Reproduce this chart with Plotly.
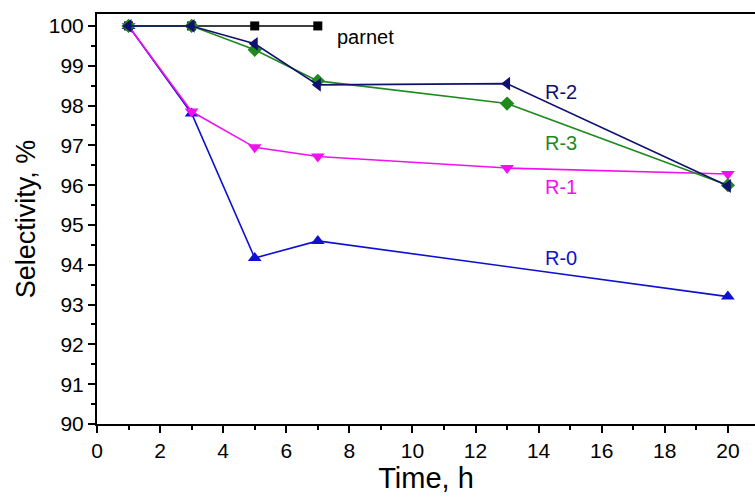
import plotly.graph_objects as go

# Reaction time, h
time_parnet = [1, 3, 5, 7]
time_series = [1, 3, 5, 7, 13, 20]
time_r0 = [1, 3, 5, 7, 20]

# Selectivity, %
sel_parnet = [100.0, 100.0, 100.0, 100.0]
sel_r0 = [100.0, 97.8, 94.17, 94.6, 93.2]
sel_r1 = [100.0, 97.85, 96.95, 96.72, 96.43, 96.28]
sel_r2 = [100.0, 100.0, 99.55, 98.52, 98.55, 95.98]
sel_r3 = [100.0, 100.0, 99.4, 98.62, 98.05, 96.0]

labels = ["parnet", "R-0", "R-1", "R-2", "R-3"]
label_x = [7.55, 14.7, 14.7, 14.7, 14.7]
label_y = [99.72, 94.17, 95.95, 98.34, 97.06]

FONT = "Arial, Liberation Sans, sans-serif"
colors = {
    "parnet": "#000000",
    "R-0": "#1010D0",
    "R-1": "#F010F0",
    "R-2": "#101070",
    "R-3": "#1E8A1E",
}

fig = go.Figure()

series = [
    ("parnet", time_parnet, sel_parnet, "square", 9),
    ("R-0", time_r0, sel_r0, "triangle-up", 12),
    ("R-1", time_series, sel_r1, "triangle-down", 12),
    ("R-3", time_series, sel_r3, "diamond", 11),
    ("R-2", time_series, sel_r2, "triangle-left", 12),
]
for name, xs, ys, sym, size in series:
    fig.add_trace(go.Scatter(
        x=xs, y=ys, mode="lines+markers", name=name,
        line=dict(color=colors[name], width=1.6),
        marker=dict(symbol=sym, size=size, color=colors[name]),
        showlegend=False,
    ))

for name, lx, ly in zip(labels, label_x, label_y):
    fig.add_annotation(
        x=lx, y=ly, xref="x", yref="y", text=name, showarrow=False,
        xanchor="left" if name == "parnet" else "center", yanchor="middle",
        font=dict(family=FONT, size=20, color=colors[name]),
    )

fig.update_xaxes(
    range=[0, 20.86], dtick=2, tick0=0,
    showline=True, linecolor="black", linewidth=2, mirror=True,
    ticks="outside", ticklen=7, tickwidth=2, tickcolor="black",
    minor=dict(ticks="outside", dtick=1, ticklen=4, tickwidth=1.5, tickcolor="black"),
    showgrid=False, zeroline=False,
    tickfont=dict(family=FONT, size=21, color="black"),
    title=dict(text="Time, h", font=dict(family=FONT, size=29, color="black"), standoff=3),
)
fig.update_yaxes(
    range=[90, 100.3], dtick=1, tick0=90,
    showline=True, linecolor="black", linewidth=2,
    ticks="outside", ticklen=7, tickwidth=2, tickcolor="black",
    minor=dict(ticks="outside", dtick=0.5, ticklen=4, tickwidth=1.5, tickcolor="black"),
    showgrid=False, zeroline=False,
    tickfont=dict(family=FONT, size=21, color="black"),
    title=dict(text="Selectivity, %", font=dict(family=FONT, size=27, color="black"), standoff=5),
)

fig.update_layout(
    width=755, height=498,
    margin=dict(l=97, r=0, t=14, b=74),
    plot_bgcolor="white", paper_bgcolor="white",
)

fig.write_html("out.html")
